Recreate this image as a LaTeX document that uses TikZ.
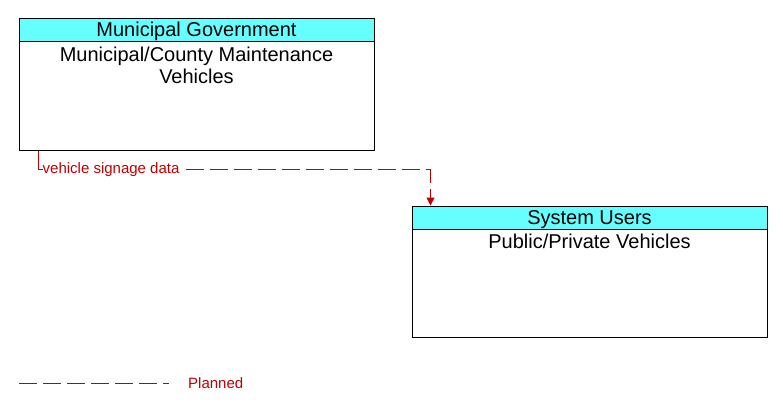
\documentclass[tikz,border=0pt]{standalone}
\usepackage{fontspec}
\setmainfont{Liberation Sans}
\usetikzlibrary{calc,arrows.meta}
\definecolor{hdr}{RGB}{102,255,255}
\definecolor{flow}{RGB}{192,0,0}
\tikzset{
  elem/.style={draw=black,line width=1pt,minimum width=355pt,minimum height=131pt,inner sep=0pt,fill=white},
  elemhdr/.style={draw=black,line width=1pt,fill=hdr,minimum width=355pt,minimum height=23pt,inner sep=0pt,font=\fontsize{20}{22}\selectfont},
  elemtxt/.style={align=center,font=\fontsize{20}{22}\selectfont,inner sep=0pt,anchor=north},
  flowline/.style={draw=flow,line width=1pt},
  planned/.style={flowline,dash pattern=on 18pt off 6pt},
  flowlbl/.style={text=flow,font=\fontsize{15}{16}\selectfont,inner sep=0pt}
}
\begin{document}
\begin{tikzpicture}[x=1pt,y=-1pt]
\useasboundingbox (0,0) rectangle (783,412);
% element 1
\node[elem] (mcmv) at (196.5,84.5) {};
\node[elemhdr,anchor=north] (mcmvh) at (mcmv.north) {\raisebox{-6.5pt}[0pt][0pt]{Municipal Government}};
\node[elemtxt] (mcmvt) at ($(mcmvh.south)+(0,4)$) {Municipal/County Maintenance\\Vehicles};
% element 2
\node[elem] (ppv) at (589.5,271.5) {};
\node[elemhdr,anchor=north] (ppvh) at (ppv.north) {\raisebox{-6.5pt}[0pt][0pt]{System Users}};
\node[elemtxt] (ppvt) at ($(ppvh.south)+(0,4)$) {Public/Private Vehicles};
% flow
\coordinate (f0) at ($(mcmv.south west)+(20,0)$);
\coordinate (f1) at ($(f0)+(0,19)$);
\node[flowlbl,anchor=west] (flbl) at ($(f1)+(4,0)$) {vehicle signage data};
\coordinate (f2) at ($(ppv.north west)+(19,0)$);
\draw[flowline] (f0) -- (f1) -- (flbl.west);
\draw[planned,-{Triangle[length=8pt,width=8pt]}] ($(flbl.east)+(6,0)$) -- (f1 -| f2) -- (f2);
% legend
\coordinate (l0) at (19,383);
\coordinate (l1) at (169,383);
\draw[planned] (l0) -- (l1);
\node[flowlbl,anchor=west] (lgd) at (188,383) {Planned};
\end{tikzpicture}
\end{document}
